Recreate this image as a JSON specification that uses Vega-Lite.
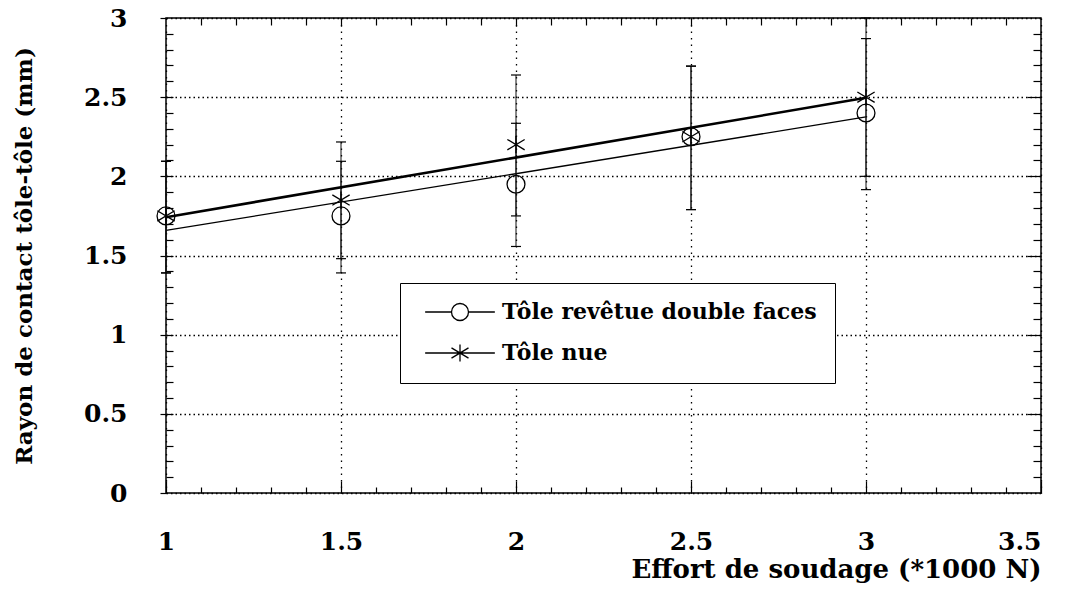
{
  "$schema": "https://vega.github.io/schema/vega-lite/v6.json",
  "width": 875,
  "height": 475,
  "autosize": {"type": "none"},
  "padding": {"left": 166, "top": 18, "right": 24, "bottom": 98},
  "background": "white",
  "config": {
    "view": {"stroke": "black", "strokeWidth": 1.5},
    "font": "DejaVu Serif",
    "axis": {
      "labelFont": "DejaVu Serif", "labelFontWeight": "bold", "labelFontSize": 25, "labelColor": "black",
      "titleFont": "DejaVu Serif", "titleFontWeight": "bold", "titleColor": "black",
      "domain": false, "tickColor": "black", "tickWidth": 1.2, "grid": false
    }
  },
  "datasets": {
    "points": [
      {"x": 1, "y": 1.75, "series": "Tôle revêtue double faces"},
      {"x": 1.5, "y": 1.75, "series": "Tôle revêtue double faces"},
      {"x": 2, "y": 1.95, "series": "Tôle revêtue double faces"},
      {"x": 2.5, "y": 2.25, "series": "Tôle revêtue double faces"},
      {"x": 3, "y": 2.4, "series": "Tôle revêtue double faces"},
      {"x": 1, "y": 1.75, "series": "Tôle nue"},
      {"x": 1.5, "y": 1.85, "series": "Tôle nue"},
      {"x": 2, "y": 2.2, "series": "Tôle nue"},
      {"x": 2.5, "y": 2.25, "series": "Tôle nue"},
      {"x": 3, "y": 2.5, "series": "Tôle nue"}
    ],
    "fit": [
      {"x": 1, "y": 1.658, "series": "Tôle revêtue double faces"},
      {"x": 3, "y": 2.375, "series": "Tôle revêtue double faces"},
      {"x": 1, "y": 1.742, "series": "Tôle nue"},
      {"x": 3, "y": 2.496, "series": "Tôle nue"}
    ],
    "err": [
      {"x": 1, "lo": 1.39, "hi": 2.095, "series": "Tôle revêtue double faces"},
      {"x": 1.5, "lo": 1.39, "hi": 2.095, "series": "Tôle revêtue double faces"},
      {"x": 2, "lo": 1.557, "hi": 2.335, "series": "Tôle revêtue double faces"},
      {"x": 2.5, "lo": 1.79, "hi": 2.696, "series": "Tôle revêtue double faces"},
      {"x": 3, "lo": 1.916, "hi": 2.87, "series": "Tôle revêtue double faces"},
      {"x": 1, "lo": 1.39, "hi": 2.095, "series": "Tôle nue"},
      {"x": 1.5, "lo": 1.48, "hi": 2.217, "series": "Tôle nue"},
      {"x": 2, "lo": 1.75, "hi": 2.64, "series": "Tôle nue"},
      {"x": 2.5, "lo": 1.79, "hi": 2.696, "series": "Tôle nue"},
      {"x": 3, "lo": 2.0, "hi": 3.0, "series": "Tôle nue"}
    ]
  },
  "layer": [
    {
      "data": {"name": "fit"},
      "transform": [{"filter": "datum.series === 'Tôle revêtue double faces'"}],
      "mark": {"type": "line", "color": "black", "strokeWidth": 1.3},
      "encoding": {
        "x": {"field": "x", "type": "quantitative", "scale": {"domain": [1, 3.5], "nice": false, "zero": false},
          "axis": {"orient": "bottom", "values": [1, 1.5, 2, 2.5, 3, 3.5], "format": "~g",
            "labelAlign": {"condition": {"test": "datum.value >= 3.4", "value": "right"}, "value": "center"},
            "labelBaseline": "top", "labelPadding": 48, "tickSize": -12,
            "grid": true, "gridColor": "black", "gridDash": [1.5, 5], "gridWidth": 1.3,
            "title": "Effort de soudage (*1000 N)", "titleFontSize": 26, "titleAnchor": "end", "titleAlign": "right",
            "titleBaseline": "alphabetic", "titleY": 84}},
        "y": {"field": "y", "type": "quantitative", "scale": {"domain": [0, 3], "nice": false, "zero": false},
          "axis": {"orient": "left", "values": [0, 0.5, 1, 1.5, 2, 2.5, 3], "format": "~g", "labelPadding": 33, "tickSize": 6,
            "grid": true, "gridColor": "black", "gridDash": [1.5, 3], "gridWidth": 1.3,
            "title": "Rayon de contact tôle-tôle (mm)", "titleFontSize": 23, "titleX": -135, "titleBaseline": "alphabetic"}}
      }
    },
    {
      "data": {"name": "err"},
      "mark": {"type": "rule", "color": "#111", "strokeWidth": 1},
      "encoding": {
        "x": {"field": "x", "type": "quantitative", "scale": {"domain": [1, 3.5], "nice": false, "zero": false},
          "axis": {"orient": "bottom", "values": [1.1,1.2,1.3,1.4,1.6,1.7,1.8,1.9,2.1,2.2,2.3,2.4,2.6,2.7,2.8,2.9,3.1,3.2,3.3,3.4], "labels": false, "tickSize": -6, "title": null}},
        "y": {"field": "lo", "type": "quantitative", "scale": {"domain": [0, 3], "nice": false, "zero": false},
          "axis": {"orient": "left", "values": [0.1,0.2,0.3,0.4,0.5,0.6,0.7,0.8,0.9,1,1.1,1.2,1.3,1.4,1.5,1.6,1.7,1.8,1.9,2,2.1,2.2,2.3,2.4,2.5,2.6,2.7,2.8,2.9], "labels": false, "tickSize": -7, "title": null}},
        "y2": {"field": "hi"}
      }
    },
    {
      "data": {"name": "err"},
      "mark": {"type": "point", "shape": "M-1,0L1,0", "size": 100, "filled": false, "stroke": "black", "strokeWidth": 1.2, "opacity": 1},
      "encoding": {
        "x": {"field": "x", "type": "quantitative", "scale": {"domain": [1, 3.5], "nice": false, "zero": false},
          "axis": {"orient": "top", "values": [1.5, 2, 2.5, 3], "labels": false, "tickSize": -8, "title": null}},
        "y": {"field": "lo", "type": "quantitative", "scale": {"domain": [0, 3], "nice": false, "zero": false},
          "axis": {"orient": "right", "values": [0.5, 1, 1.5, 2, 2.5], "labels": false, "tickSize": -14, "title": null}}
      }
    },
    {
      "data": {"name": "err"},
      "mark": {"type": "point", "shape": "M-1,0L1,0", "size": 100, "filled": false, "stroke": "black", "strokeWidth": 1.2, "opacity": 1},
      "encoding": {
        "x": {"field": "x", "type": "quantitative", "scale": {"domain": [1, 3.5], "nice": false, "zero": false},
          "axis": {"orient": "top", "values": [1.1,1.2,1.3,1.4,1.6,1.7,1.8,1.9,2.1,2.2,2.3,2.4,2.6,2.7,2.8,2.9,3.1,3.2,3.3,3.4], "labels": false, "tickSize": -7, "title": null}},
        "y": {"field": "hi", "type": "quantitative", "scale": {"domain": [0, 3], "nice": false, "zero": false},
          "axis": {"orient": "right", "values": [0.1,0.2,0.3,0.4,0.6,0.7,0.8,0.9,1.1,1.2,1.3,1.4,1.6,1.7,1.8,1.9,2.1,2.2,2.3,2.4,2.6,2.7,2.8,2.9], "labels": false, "tickSize": -8, "title": null}}
      }
    },
    {
      "data": {"name": "fit"},
      "transform": [{"filter": "datum.series === 'Tôle nue'"}],
      "mark": {"type": "line", "color": "black", "strokeWidth": 2.6},
      "encoding": {
        "x": {"field": "x", "type": "quantitative", "axis": null},
        "y": {"field": "y", "type": "quantitative", "axis": null}
      }
    },
    {
      "data": {"name": "points"},
      "transform": [{"filter": "datum.series === 'Tôle revêtue double faces'"}],
      "mark": {"type": "point", "shape": "circle", "size": 320, "filled": false, "stroke": "black", "strokeWidth": 1.3, "opacity": 1},
      "encoding": {
        "x": {"field": "x", "type": "quantitative", "axis": null},
        "y": {"field": "y", "type": "quantitative", "axis": null}
      }
    },
    {
      "data": {"name": "points"},
      "transform": [{"filter": "datum.series === 'Tôle nue'"}],
      "mark": {"type": "point", "shape": "M0,-1L0,1M-1,-0.6L1,0.6M-1,0.6L1,-0.6", "size": 300, "filled": false, "stroke": "black", "strokeWidth": 1.3, "opacity": 1},
      "encoding": {
        "x": {"field": "x", "type": "quantitative", "axis": null},
        "y": {"field": "y", "type": "quantitative", "axis": null}
      }
    },
    {
      "data": {"name": "fit"},
      "mark": {"type": "point", "filled": false, "opacity": 0},
      "encoding": {
        "x": {"field": "x", "type": "quantitative", "axis": null},
        "y": {"field": "y", "type": "quantitative", "axis": null},
        "shape": {"field": "series", "type": "nominal",
          "scale": {"domain": ["Tôle revêtue double faces", "Tôle nue"],
            "range": ["M-4.1,0L-1,0M1,0L4.1,0M-1,0A1,1,0,1,0,1,0A1,1,0,1,0,-1,0", "M-4.1,0L4.1,0M0,-1L0,1M-1,-0.6L1,0.6M-1,0.6L1,-0.6"]},
          "legend": {"title": null, "orient": "none", "legendX": 234, "legendY": 265, "padding": 18,
            "fillColor": "white", "strokeColor": "black", "cornerRadius": 0,
            "symbolSize": 289, "symbolStrokeColor": "black", "symbolStrokeWidth": 1.3, "symbolFillColor": "transparent",
            "symbolOpacity": 1, "symbolOffset": 31, "labelOffset": 31,
            "labelFont": "DejaVu Serif", "labelFontWeight": "bold", "labelFontSize": 22, "labelColor": "black",
            "labelLimit": 600, "rowPadding": 17}}
      }
    }
  ],
  "resolve": {"axis": {"x": "independent", "y": "independent"}}
}
